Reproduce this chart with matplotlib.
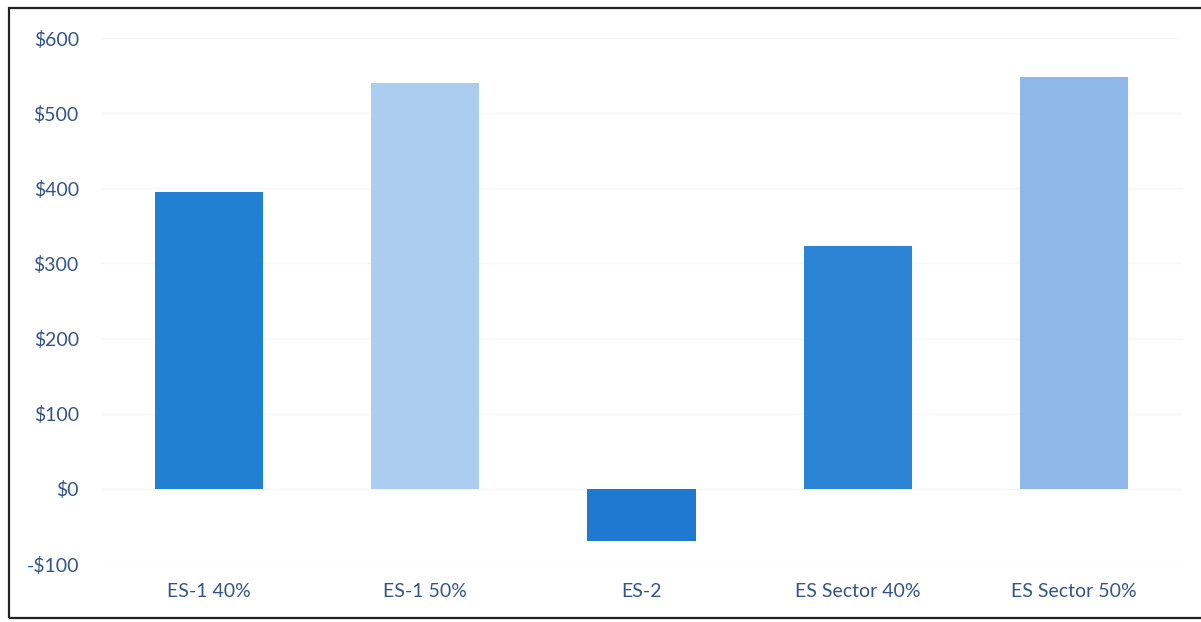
import matplotlib
matplotlib.use("Agg")
import matplotlib.pyplot as plt
from matplotlib.patches import Rectangle

# scenario results
scenarios = ["ES-1 40%", "ES-1 50%", "ES-2", "ES Sector 40%", "ES Sector 50%"]
values = [395, 540, -70, 323, 548]
bar_colors = ["#2180D2", "#AACDF0", "#2079D1", "#2B83D4", "#8FB7E7"]
yticks = [-100, 0, 100, 200, 300, 400, 500, 600]

text_color = "#34558A"
plt.rcParams["font.family"] = ["Lato", "DejaVu Sans"]

fig = plt.figure(figsize=(12.01, 6.22), dpi=100)
ax = fig.add_axes([101 / 1201, 58 / 622, 1081 / 1201, 526 / 622])

x = range(len(scenarios))
ax.bar(x, values, width=0.5, color=bar_colors, zorder=2)

ax.set_xlim(-0.5, len(scenarios) - 0.5)
ax.set_ylim(-100, 600)
ax.set_yticks(yticks)
ax.set_yticklabels([("-$%d" % -v) if v < 0 else ("$%d" % v) for v in yticks],
                   fontsize=14, color=text_color)
ax.set_xticks(list(x))
ax.set_xticklabels(scenarios, fontsize=14, color=text_color)
ax.tick_params(axis="both", length=0)
ax.tick_params(axis="y", pad=16)
ax.tick_params(axis="x", pad=14)

ax.grid(axis="y", color="#F6F6F6", linewidth=1, zorder=0)
for s in ax.spines.values():
    s.set_visible(False)

# outer frame around the chart
fig.patches.append(Rectangle((9 / 1201, 4 / 622), 1.0, 610 / 622,
                             transform=fig.transFigure, fill=False,
                             edgecolor="#222222", linewidth=1.6))

fig.savefig("out.png", dpi=100)
